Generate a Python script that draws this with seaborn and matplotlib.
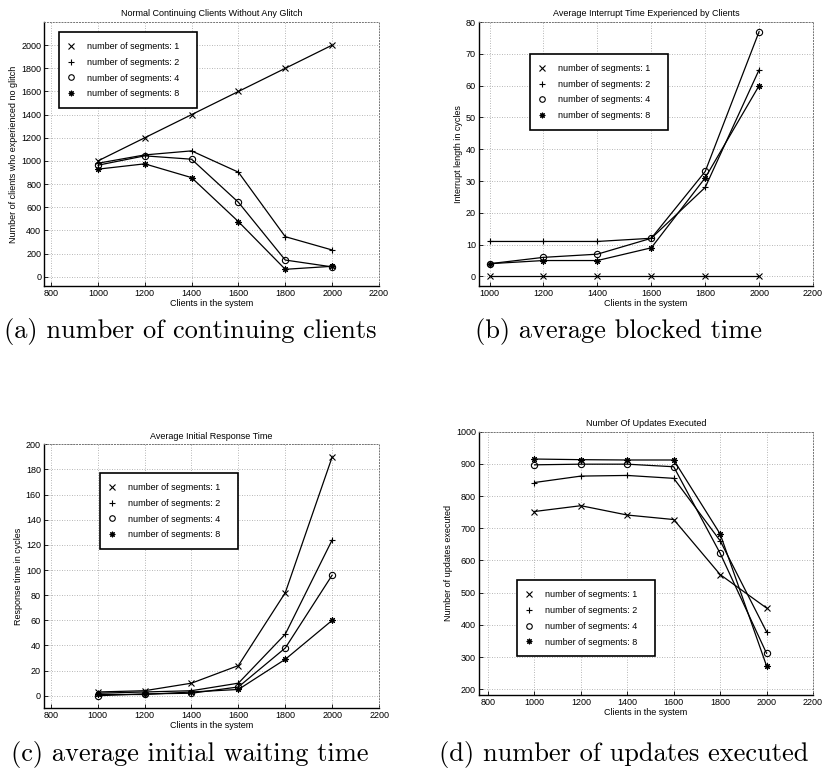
import numpy as np
import pandas as pd
import matplotlib
matplotlib.use("Agg")
import matplotlib.pyplot as plt
from matplotlib.lines import Line2D
import seaborn as sns

# ---------------- data ----------------
clients = [1000, 1200, 1400, 1600, 1800, 2000]
segments = [1, 2, 4, 8]

# (a) normal continuing clients without any glitch
cont_seg1 = [1000, 1200, 1400, 1600, 1800, 2000]
cont_seg2 = [980, 1052, 1087, 903, 346, 231]
cont_seg4 = [963, 1044, 1015, 643, 144, 85]
cont_seg8 = [929, 975, 856, 476, 64, 90]

# (b) average interrupt time
intr_seg1 = [0, 0, 0, 0, 0, 0]
intr_seg2 = [11, 11, 11, 12, 28, 65]
intr_seg4 = [4, 6, 7, 12, 33, 77]
intr_seg8 = [4, 5, 5, 9, 31, 60]

# (c) average initial response time
resp_seg1 = [3, 4, 10, 24, 82, 190]
resp_seg2 = [2, 3, 4, 10, 49, 124]
resp_seg4 = [0, 1.5, 2, 7, 38, 96]
resp_seg8 = [1, 1, 3, 5, 29, 60]

# (d) number of updates executed
upd_seg1 = [752, 770, 741, 727, 556, 452]
upd_seg2 = [842, 862, 864, 855, 661, 378]
upd_seg4 = [897, 899, 899, 891, 622, 311]
upd_seg8 = [915, 913, 912, 912, 682, 272]

titles = ["Normal Continuing Clients Without Any Glitch",
          "Average Interrupt Time Experienced by Clients",
          "Average Initial Response Time",
          "Number Of Updates Executed"]
ylabels = ["Number of clients who experienced no glitch",
           "Interrupt length in cycles",
           "Response time in cycles",
           "Number of updates executed"]
xlabel = "Clients in the system"
captions = ["(a) number of continuing clients", "(b) average blocked time",
            "(c) average initial waiting time", "(d) number of updates executed"]
legend_labels = [f"number of segments: {s}" for s in segments]

# ---------------- style ----------------
sns.set_theme(style="ticks")
plt.rcParams["font.family"] = ["Liberation Sans", "DejaVu Sans"]
plt.rcParams["text.color"] = "black"
plt.rcParams["axes.labelcolor"] = "black"
plt.rcParams["xtick.color"] = "black"
plt.rcParams["ytick.color"] = "black"

marker_map = {1: "x", 2: "+", 4: "o", 8: (8, 2, 0)}
FS = 6.5

fig = plt.figure(figsize=(8.22, 7.70), dpi=100)

panels = [
    dict(series=[cont_seg1, cont_seg2, cont_seg4, cont_seg8],
         rect=[0.0535, 0.6286, 0.4075, 0.3428],
         xlim=(770, 2200), xticks=np.arange(800, 2201, 200),
         ylim=(-80, 2200), yticks=np.arange(0, 2001, 200),
         leg=(0.045, 0.962, 0.412)),
    dict(series=[intr_seg1, intr_seg2, intr_seg4, intr_seg8],
         rect=[0.5824, 0.6286, 0.4067, 0.3428],
         xlim=(960, 2200), xticks=np.arange(1000, 2201, 200),
         ylim=(-3, 80), yticks=np.arange(0, 81, 10),
         leg=(0.153, 0.879, 0.412)),
    dict(series=[resp_seg1, resp_seg2, resp_seg4, resp_seg8],
         rect=[0.0532, 0.0801, 0.408, 0.3429],
         xlim=(770, 2200), xticks=np.arange(800, 2201, 200),
         ylim=(-10, 200), yticks=np.arange(0, 201, 20),
         leg=(0.167, 0.891, 0.412)),
    dict(series=[upd_seg1, upd_seg2, upd_seg4, upd_seg8],
         rect=[0.5824, 0.0974, 0.4067, 0.342],
         xlim=(760, 2200), xticks=np.arange(800, 2201, 200),
         ylim=(182, 1000), yticks=np.arange(200, 1001, 100),
         leg=(0.115, 0.4356, 0.412)),
]

for i, p in enumerate(panels):
    ax = fig.add_axes(p["rect"])
    for seg, vals in zip(segments, p["series"]):
        df = pd.DataFrame({"clients": clients, "value": vals})
        sns.lineplot(data=df, x="clients", y="value", ax=ax,
                     color="black", marker=marker_map[seg], lw=0.9, ms=4.5,
                     mec="black", mfc="none", mew=0.8)
    ax.set_xlim(p["xlim"])
    ax.set_ylim(p["ylim"])
    ax.set_xticks(p["xticks"])
    ax.set_yticks(p["yticks"])
    ax.tick_params(direction="in", length=3, width=0.6, labelsize=FS, pad=2)
    ax.grid(True, linestyle=(0, (1, 2)), color="0.62", lw=0.6)
    for s in ["left", "bottom"]:
        ax.spines[s].set_color("black")
        ax.spines[s].set_linewidth(1.0)
    for s in ["top", "right"]:
        ax.spines[s].set_color("0.45")
        ax.spines[s].set_linestyle((0, (1, 2)))
        ax.spines[s].set_linewidth(0.7)
    ax.set_title(titles[i], fontsize=FS, pad=4)
    ax.set_xlabel(xlabel, fontsize=FS, labelpad=1)
    ax.set_ylabel(ylabels[i], fontsize=FS, labelpad=2)

    handles = [Line2D([], [], ls="none", marker=marker_map[s], color="black",
                      mfc="none", mec="black", ms=4, mew=0.8) for s in segments]
    lx, ly, lw = p["leg"]
    leg = ax.legend(handles, legend_labels, loc="upper left",
                    bbox_to_anchor=(lx, ly - 0.3, lw, 0.3), mode="expand",
                    fontsize=FS, frameon=True, fancybox=False, framealpha=1,
                    edgecolor="black", borderpad=1.1, labelspacing=0.75,
                    handlelength=0.5, handletextpad=1.5, borderaxespad=0)
    leg.get_frame().set_linewidth(1.2)

cap_pos = [(0.231, 0.569), (0.752, 0.569), (0.231, 0.0195), (0.759, 0.0195)]
for (cx, cy), txt in zip(cap_pos, captions):
    fig.text(cx, cy, txt, ha="center", va="center", fontsize=19,
             family=["cmr10", "DejaVu Serif"])

fig.savefig("out.png", dpi=100)
